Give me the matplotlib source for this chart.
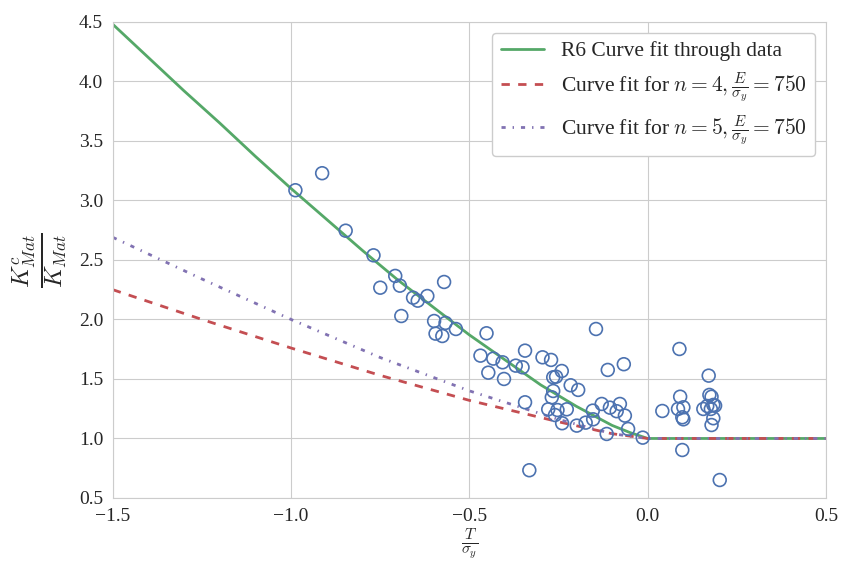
import numpy as np
import matplotlib
matplotlib.use('Agg')
import matplotlib.pyplot as plt
import seaborn as sns

sns.set_style('whitegrid')
plt.rcParams['font.family'] = ['Liberation Serif', 'DejaVu Serif']
plt.rcParams['mathtext.fontset'] = 'cm'
plt.rcParams['lines.scale_dashes'] = False

# measured data points (T/sigma_y, Kc/K)
x_data = [-0.988, -0.913, -0.847, -0.769, -0.708, -0.750, -0.695, -0.658, -0.645, -0.618,
          -0.571, -0.691, -0.599, -0.567, -0.538, -0.595, -0.576, -0.452, -0.469, -0.433,
          -0.407, -0.447, -0.403, -0.370, -0.351, -0.344, -0.295, -0.271, -0.241, -0.265,
          -0.257, -0.216, -0.195, -0.265, -0.269, -0.344, -0.279, -0.253, -0.227, -0.260,
          -0.240, -0.199, -0.174, -0.153, -0.154, -0.129, -0.106, -0.087, -0.078, -0.064,
          -0.055, -0.115, -0.014, -0.145, -0.112, -0.067, 0.041, -0.332, 0.089, 0.171,
          0.091, 0.173, 0.179, 0.085, 0.100, 0.097, 0.100, 0.156, 0.167, 0.184,
          0.189, 0.177, 0.184, 0.179, 0.097, 0.202]
y_data = [3.086, 3.229, 2.746, 2.539, 2.366, 2.267, 2.284, 2.183, 2.158, 2.197,
          2.315, 2.029, 1.987, 1.971, 1.920, 1.881, 1.861, 1.884, 1.696, 1.671,
          1.640, 1.553, 1.500, 1.612, 1.598, 1.738, 1.682, 1.660, 1.567, 1.514,
          1.519, 1.447, 1.408, 1.399, 1.346, 1.304, 1.245, 1.239, 1.245, 1.197,
          1.128, 1.108, 1.133, 1.161, 1.234, 1.290, 1.259, 1.229, 1.290, 1.192,
          1.080, 1.038, 1.007, 1.920, 1.576, 1.624, 1.231, 0.733, 1.752, 1.528,
          1.351, 1.366, 1.351, 1.248, 1.262, 1.178, 1.161, 1.248, 1.273, 1.282,
          1.276, 1.248, 1.170, 1.113, 0.903, 0.651]

r6_x = [-1.5, -1.4, -1.3, -1.2, -1.1, -1.0, -0.9, -0.8, -0.7, -0.6, -0.5, -0.4,
        -0.3, -0.2, -0.1, -0.05, 0.0, 0.5]
r6_y = [4.48, 4.20, 3.92, 3.65, 3.37, 3.10, 2.84, 2.58, 2.33, 2.10, 1.87, 1.66,
        1.45, 1.27, 1.11, 1.05, 1.0, 1.0]

# n=4 and n=5 fits
fit_x = [-1.5, -1.25, -1.0, -0.75, -0.5, -0.25, -0.1, 0.0, 0.5]
n4_y = [2.25, 2.00, 1.76, 1.53, 1.32, 1.14, 1.04, 1.0, 1.0]
n5_y = [2.69, 2.34, 2.00, 1.68, 1.40, 1.16, 1.04, 1.0, 1.0]

fig = plt.figure(figsize=(8.42, 5.63), dpi=100)
ax = fig.add_axes([0.134, 0.1155, 0.847, 0.8455])

ax.plot(r6_x, r6_y, color='#55a868', lw=2, label='R6 Curve fit through data')
ax.plot(fit_x, n4_y, color='#c44e52', lw=2, ls=(0, (6, 6)),
        label=r'Curve fit for $n=4, \frac{E}{\sigma_y}=750$')
ax.plot(fit_x, n5_y, color='#8172b2', lw=2, ls=(0, (3, 5, 1, 5)),
        label=r'Curve fit for $n=5, \frac{E}{\sigma_y}=750$')
ax.scatter(x_data, y_data, s=85, facecolors='none', edgecolors='#4c72b0',
           linewidths=1.2, zorder=3)

ax.set_xlim(-1.5, 0.5)
ax.set_ylim(0.5, 4.5)
ax.set_xticks([-1.5, -1.0, -0.5, 0.0, 0.5])
ax.set_yticks(np.arange(0.5, 4.51, 0.5))
ax.tick_params(labelsize=14)
ax.set_xlabel(r'$\frac{T}{\sigma_y}$', fontsize=16, labelpad=1)
ax.set_ylabel(r'$\frac{K^c_{Mat}}{K_{Mat}}$', fontsize=25, labelpad=6)

leg = ax.legend(loc='upper right', fontsize=15.5, frameon=True, framealpha=1,
                borderaxespad=0.5, labelspacing=0.4)
leg.get_frame().set_edgecolor('0.8')

fig.savefig('out.png', dpi=100)
